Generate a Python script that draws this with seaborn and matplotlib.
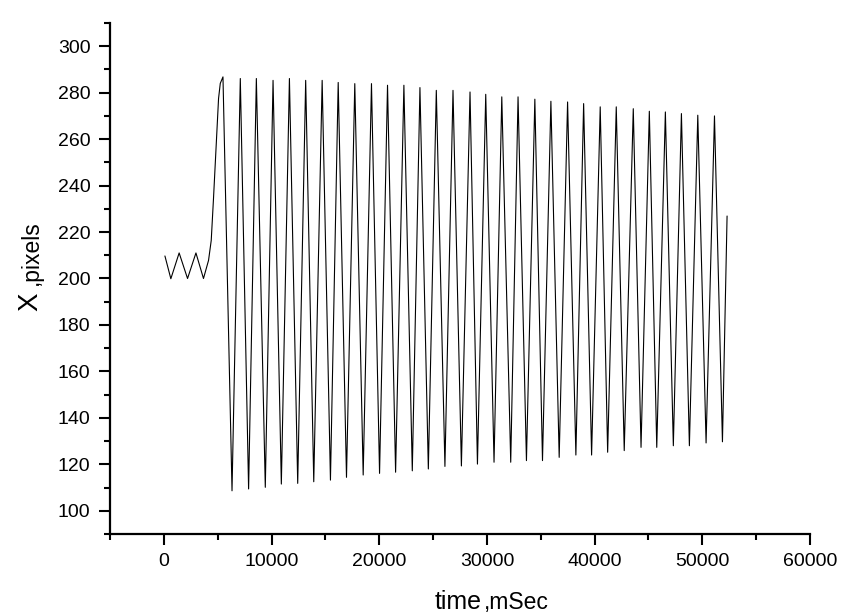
import pandas as pd
import matplotlib
matplotlib.use('Agg')
import matplotlib.pyplot as plt
import seaborn as sns
from matplotlib.ticker import MultipleLocator

# Start of the record: small wobble, then the rise to the first big swing
lead_time = [100, 650, 1420, 2200, 2980, 3680, 4150, 4400, 4610, 5080, 5240]
lead_x = [209.7, 199.9, 211.0, 200.0, 211.0, 200.0, 207.8, 216.4, 234.4, 277.5, 284.0]

# Top of each swing (time in mSec, X in pixels)
peak_time = [5490, 7100, 8590, 10140, 11660, 13170, 14700, 16190, 17730, 19280,
             20770, 22290, 23780, 25300, 26850, 28430, 29890, 31380, 32890, 34450,
             35940, 37490, 38980, 40520, 42010, 43590, 45080, 46570, 48060, 49580,
             51130]
peak_x = [286.8, 286.1, 286.1, 285.3, 286.1, 285.3, 285.3, 284.4, 283.9, 283.9,
          283.2, 283.2, 282.2, 281.0, 281.0, 280.3, 279.3, 278.2, 278.2, 277.2,
          276.3, 276.0, 275.3, 273.9, 273.9, 273.1, 272.0, 271.7, 271.0, 270.3,
          270.0]

# Bottom of each swing
trough_time = [6330, 7870, 9420, 10910, 12430, 13920, 15470, 16960, 18510, 20030,
               21520, 23070, 24560, 26100, 27630, 29120, 30660, 32210, 33670, 35160,
               36710, 38260, 39720, 41210, 42750, 44310, 45770, 47310, 48800, 50350,
               51870]
trough_x = [108.6, 109.4, 110.1, 111.5, 111.8, 112.5, 113.2, 114.4, 115.4, 116.1,
            116.6, 117.2, 118.0, 119.1, 119.3, 120.1, 120.9, 120.9, 121.6, 121.6,
            123.0, 124.0, 124.0, 125.2, 125.9, 127.3, 127.3, 128.0, 128.0, 129.2,
            129.7]

# Last sample of the record
end_time = [52300]
end_x = [226.9]

# Put everything into one table ordered by time
df = pd.DataFrame({
    'time': lead_time + peak_time + trough_time + end_time,
    'X': lead_x + peak_x + trough_x + end_x,
}).sort_values('time')

sns.set_style('ticks')
plt.rcParams['font.family'] = ['Liberation Sans', 'DejaVu Sans']
plt.rcParams['text.color'] = 'black'

fig = plt.figure(figsize=(8.58, 6.16), dpi=100)
ax = fig.add_axes([110 / 858, 1 - 534 / 616, 700 / 858, 511 / 616])

sns.lineplot(data=df, x='time', y='X', color='black', linewidth=0.8,
             sort=False, estimator=None, ax=ax)

ax.set_xlim(-5000, 60000)
ax.set_ylim(90, 310)
ax.xaxis.set_major_locator(MultipleLocator(10000))
ax.xaxis.set_minor_locator(MultipleLocator(5000))
ax.yaxis.set_major_locator(MultipleLocator(20))
ax.yaxis.set_minor_locator(MultipleLocator(10))

sns.despine(ax=ax)
for side in ['left', 'bottom']:
    ax.spines[side].set_linewidth(1.6)
    ax.spines[side].set_color('black')

ax.tick_params(which='major', direction='out', length=8, width=1.5,
               labelsize=14, pad=6, colors='black')
ax.tick_params(which='minor', direction='out', length=4.5, width=1.5, colors='black')

ax.set_xlabel('')
ax.set_ylabel('')

# Axis titles are drawn in two sizes, like the original
fig.text(435 / 858, 1 - 609 / 616, 'time', fontsize=18, ha='left', va='baseline')
fig.text(484 / 858, 1 - 609 / 616, ',mSec', fontsize=16.5, ha='left', va='baseline')
fig.text(37.5 / 858, 1 - 311 / 616, 'X', fontsize=20, rotation=90,
         rotation_mode='anchor', ha='left', va='baseline')
fig.text(37.5 / 858, 1 - 285 / 616, ',pixels', fontsize=16.5, rotation=90,
         rotation_mode='anchor', ha='left', va='baseline')

plt.savefig('out.png', dpi=100)
